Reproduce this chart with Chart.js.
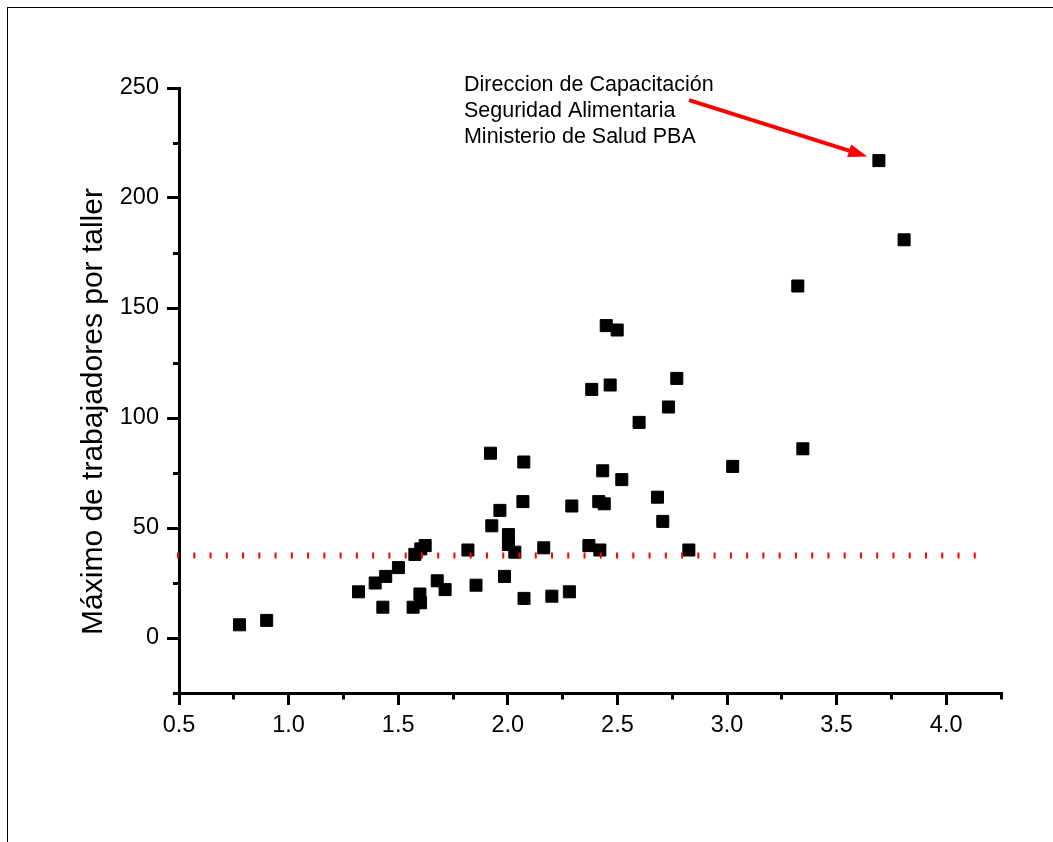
<!DOCTYPE html>
<html>
<head>
<meta charset="utf-8">
<script src="https://cdn.jsdelivr.net/npm/chart.js@4.4.1/dist/chart.umd.min.js"></script>
<style>
html, body { margin: 0; padding: 0; background: #fff; }
#wrap { position: relative; width: 1053px; height: 842px; overflow: hidden; background: #fff; }
#frame { position: absolute; left: 7px; top: 7px; right: -20px; bottom: -20px; border-left: 1px solid #000; border-top: 1px solid #000; pointer-events: none; }
canvas { position: absolute; left: 0; top: 0; }
</style>
</head>
<body>
<div id="wrap">
  <canvas id="c" width="1053" height="842"></canvas>
  <div id="frame"></div>
</div>
<script>
// ---- data ----
const xValues = [0.776, 0.900, 1.319, 1.395, 1.430, 1.443, 1.501, 1.568, 1.602, 1.599, 1.576, 1.603, 1.623,
  1.678, 1.714, 1.818, 1.855, 1.921, 1.927, 1.964, 1.985, 2.003, 2.003, 2.032, 2.074, 2.069, 2.073,
  2.164, 2.201, 2.281, 2.292, 2.370, 2.383, 2.420, 2.415, 2.433, 2.440, 2.449, 2.467, 2.499, 2.520,
  2.599, 2.683, 2.707, 2.733, 2.771, 2.826, 3.026, 3.323, 3.346, 3.693, 3.808];
const yValues = [6, 8, 21, 25, 14, 28, 32, 14, 16, 20, 38, 40.5, 42,
  26, 22, 40, 24, 84, 51, 58, 28, 47, 42.5, 39, 18, 62, 80,
  41, 19, 21, 60, 42, 113, 40, 62, 76, 61, 142, 115, 140, 72,
  98, 64, 53, 105, 118, 40, 78, 160, 86, 217, 181];
const refLineX = [0.491, 4.135];
const refLineY = [37.5, 37.5];
const xMinorTicks = [0.75, 1.25, 1.75, 2.25, 2.75, 3.25, 3.75, 4.25];
const yMinorTicks = [-25, 25, 75, 125, 175, 225];
const yTitle = 'Máximo de trabajadores por taller';
const noteLines = ['Direccion de Capacitación', 'Seguridad Alimentaria', 'Ministerio de Salud PBA'];

const FONT = "'Liberation Sans', Arial, Helvetica, sans-serif";
Chart.defaults.font.family = FONT;
Chart.defaults.color = '#000';

const scatterData = xValues.map((x, i) => ({ x: x, y: yValues[i] }));
const refData = refLineX.map((x, i) => ({ x: x, y: refLineY[i] }));

const extras = {
  id: 'extras',
  afterDraw(chart) {
    const { ctx, chartArea, scales } = chart;
    const xs = scales.x, ys = scales.y;
    ctx.save();
    // minor ticks
    ctx.strokeStyle = '#000';
    ctx.lineWidth = 3;
    ctx.lineCap = 'butt';
    ctx.beginPath();
    xMinorTicks.forEach(v => {
      const p = Math.round(xs.getPixelForValue(v) - 1.5) + 1.5;
      ctx.moveTo(p, chartArea.bottom);
      ctx.lineTo(p, chartArea.bottom + 6.5);
    });
    yMinorTicks.forEach(v => {
      const p = Math.round(ys.getPixelForValue(v) - 1.5) + 1.5;
      ctx.moveTo(chartArea.left - 6, p);
      ctx.lineTo(chartArea.left + 0.5, p);
    });
    ctx.stroke();

    // y axis title
    ctx.fillStyle = '#000';
    ctx.font = '30px ' + FONT;
    ctx.textAlign = 'center';
    ctx.textBaseline = 'alphabetic';
    ctx.save();
    ctx.translate(102.3, (chartArea.top + chartArea.bottom) / 2 + 21);
    ctx.rotate(-Math.PI / 2);
    ctx.fillText(yTitle, 0, 0);
    ctx.restore();

    // annotation text
    ctx.font = '21.5px ' + FONT;
    ctx.textAlign = 'left';
    const tx = xs.getPixelForValue(1.80);
    const ty = ys.getPixelForValue(248.5);
    noteLines.forEach((t, i) => ctx.fillText(t, tx, ty + i * 25.8));

    // arrow
    const sx = xs.getPixelForValue(2.827), sy = ys.getPixelForValue(244.5);
    const ex = xs.getPixelForValue(3.640), ey = ys.getPixelForValue(218.9);
    const ang = Math.atan2(ey - sy, ex - sx);
    const headLen = 19, headW = 6.5;
    ctx.strokeStyle = '#ff0000';
    ctx.fillStyle = '#ff0000';
    ctx.lineWidth = 4;
    ctx.beginPath();
    ctx.moveTo(sx, sy);
    ctx.lineTo(ex - Math.cos(ang) * (headLen - 4), ey - Math.sin(ang) * (headLen - 4));
    ctx.stroke();
    ctx.beginPath();
    ctx.moveTo(ex, ey);
    ctx.lineTo(ex - Math.cos(ang) * headLen - Math.sin(ang) * headW, ey - Math.sin(ang) * headLen + Math.cos(ang) * headW);
    ctx.lineTo(ex - Math.cos(ang) * headLen + Math.sin(ang) * headW, ey - Math.sin(ang) * headLen - Math.cos(ang) * headW);
    ctx.closePath();
    ctx.fill();
    ctx.restore();
  }
};

new Chart(document.getElementById('c'), {
  type: 'scatter',
  data: {
    datasets: [
      {
        type: 'line',
        data: refData,
        borderColor: '#ff0000',
        borderWidth: 6,
        borderDash: [2, 14.26],
        borderCapStyle: 'butt',
        pointRadius: 0,
        fill: false,
        clip: false,
        order: 0
      },
      {
        data: scatterData,
        pointStyle: 'rect',
        pointRadius: 8.5,
        pointHoverRadius: 8.5,
        backgroundColor: '#000',
        borderColor: '#000',
        borderWidth: 1,
        order: 1
      }
    ]
  },
  options: {
    responsive: false,
    animation: false,
    devicePixelRatio: 1,
    layout: { padding: { left: 0, top: 88, right: 52, bottom: 0 } },
    plugins: { legend: { display: false }, tooltip: { enabled: false } },
    scales: {
      x: {
        type: 'linear',
        position: 'bottom',
        min: 0.5,
        max: 4.25,
        afterFit(s) { s.height = 149; },
        border: { display: true, color: '#000', width: 3 },
        grid: { drawOnChartArea: false, drawTicks: true, tickLength: 12, tickWidth: 3, lineWidth: 3, color: '#000', tickColor: '#000' },
        ticks: {
          stepSize: 0.5,
          includeBounds: false,
          padding: 6,
          color: '#000',
          font: { size: 23.5 },
          maxRotation: 0,
          autoSkip: false,
          callback: v => Number(v).toFixed(1)
        }
      },
      y: {
        type: 'linear',
        position: 'left',
        min: -25,
        max: 250,
        afterFit(s) { s.width = 179; },
        border: { display: true, color: '#000', width: 3 },
        grid: { drawOnChartArea: false, drawTicks: true, tickLength: 12, tickWidth: 3, lineWidth: 3, color: '#000', tickColor: '#000' },
        ticks: {
          stepSize: 50,
          includeBounds: false,
          padding: 8,
          color: '#000',
          font: { size: 23.5 },
          autoSkip: false,
          callback: v => String(v)
        }
      }
    }
  },
  plugins: [extras]
});
</script>
</body>
</html>
